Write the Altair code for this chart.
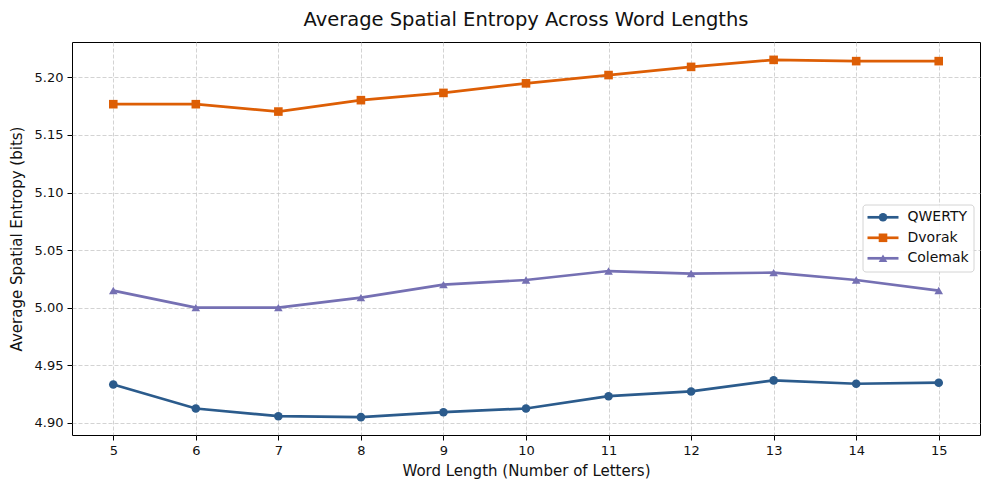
import altair as alt
import pandas as pd

# Word lengths on the x axis and the three keyboard layouts
word_lengths = [5, 6, 7, 8, 9, 10, 11, 12, 13, 14, 15]
layouts = ["QWERTY", "Dvorak", "Colemak"]

# Average spatial entropy (bits) per word length
qwerty = [4.9333, 4.9124, 4.9057, 4.9049, 4.9092, 4.9124, 4.9231, 4.9272, 4.9368, 4.9339, 4.9348]
dvorak = [5.1767, 5.1767, 5.1703, 5.1802, 5.1865, 5.1948, 5.2020, 5.2091, 5.2152, 5.2141, 5.2141]
colemak = [5.0148, 5.0000, 5.0000, 5.0087, 5.0200, 5.0240, 5.0318, 5.0296, 5.0304, 5.0240, 5.0148]

colors = ["#2b5b8c", "#dd5e05", "#7570b3"]
markers = ["circle", "square", "triangle-up"]

rows = []
for name, series in zip(layouts, [qwerty, dvorak, colemak]):
    for length, value in zip(word_lengths, series):
        rows.append({"length": length, "layout": name, "entropy": value})
df = pd.DataFrame(rows)
legend_df = pd.DataFrame({"layout": layouts})
box_df = pd.DataFrame({"layout": layouts[:1]})

# 5% margins around the data range on both axes
all_vals = qwerty + dvorak + colemak
lo, hi = min(all_vals), max(all_vals)
pad = 0.05 * (hi - lo)
y_domain = [lo - pad, hi + pad]
x_domain = [4.5, 15.5]

x_enc = alt.X(
    "length:Q",
    scale=alt.Scale(domain=x_domain, nice=False, zero=False),
    axis=alt.Axis(values=word_lengths, format="d", title="Word Length (Number of Letters)"),
)
y_enc = alt.Y(
    "entropy:Q",
    scale=alt.Scale(domain=y_domain, nice=False, zero=False),
    axis=alt.Axis(
        values=[4.90, 4.95, 5.00, 5.05, 5.10, 5.15, 5.20],
        format=".2f",
        title="Average Spatial Entropy (bits)",
    ),
)
color_enc = alt.Color("layout:N", scale=alt.Scale(domain=layouts, range=colors), legend=None)
shape_enc = alt.Shape("layout:N", scale=alt.Scale(domain=layouts, range=markers), legend=None)

lines = alt.Chart(df).mark_line(strokeWidth=2.7).encode(
    x=x_enc, y=y_enc, color=color_enc, detail="layout:N"
)
points = alt.Chart(df).mark_point(filled=True, size=74, opacity=1).encode(
    x=x_enc, y=y_enc, color=color_enc, shape=shape_enc
)
series_layer = alt.layer(lines, points)

# Legend entries: one row per layout inside a framed box at the right
row_y = alt.Y(
    "layout:N",
    scale=alt.Scale(type="point", domain=layouts, range=[175.3, 216.3], padding=0),
    axis=None,
)
legend_box = alt.Chart(box_df).mark_rect(
    fill="white", fillOpacity=0.85, stroke="#d4d4d4", strokeWidth=1, cornerRadius=3
).encode(x=alt.value(791), x2=alt.value(902), y=alt.value(163), y2=alt.value(230))
legend_lines = alt.Chart(legend_df).mark_rule(strokeWidth=2.7).encode(
    x=alt.value(795.5), x2=alt.value(826.5), y=row_y, color=color_enc
)
legend_marks = alt.Chart(legend_df).mark_point(filled=True, size=74, opacity=1).encode(
    x=alt.value(811), y=row_y, color=color_enc, shape=shape_enc
)
legend_text = alt.Chart(legend_df).mark_text(
    align="left", baseline="middle", fontSize=14, font="DejaVu Sans", color="#111111"
).encode(x=alt.value(835.5), y=row_y, text="layout:N")

legend = alt.layer(legend_box, legend_lines, legend_marks, legend_text)

chart = (
    alt.layer(series_layer, legend)
    .resolve_scale(y="independent")
    .properties(
        width=908,
        height=393,
        title=alt.Title(
            "Average Spatial Entropy Across Word Lengths",
            fontSize=19.5,
            fontWeight="normal",
            color="#111111",
            anchor="middle",
            offset=12,
        ),
        padding={"left": 72, "top": 42, "right": 9, "bottom": 55},
        autosize=alt.AutoSizeParams(type="none"),
    )
    .configure(font="DejaVu Sans", background="white")
    .configure_view(stroke="black", strokeWidth=1)
    .configure_axis(
        domain=False, grid=True, gridColor="#c8c8c8", gridDash=[4, 2], gridWidth=0.8,
        tickColor="black", tickSize=5, tickWidth=1, labelFontSize=13, labelColor="#111111",
        labelPadding=4, titleFontSize=15, titleFontWeight="normal", titleColor="#111111",
    )
    .configure_axisX(titlePadding=6, labelFlush=False)
    .configure_axisY(titlePadding=10, labelFlush=False)
)

chart.save("out.html", embed_options={"renderer": "svg", "actions": False})
